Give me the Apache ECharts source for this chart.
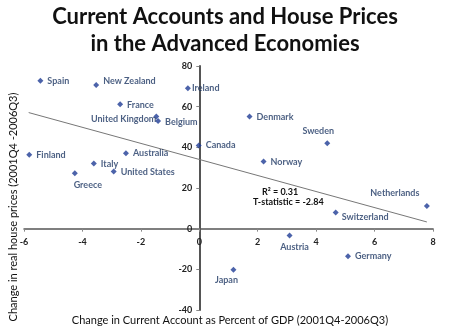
<!DOCTYPE html>
<html>
<head>
<meta charset="utf-8">
<script src="https://cdn.jsdelivr.net/npm/echarts@6/dist/echarts.min.js"></script>
<style>
html,body{margin:0;padding:0;background:#fff;}
#c{width:450px;height:332px;}
</style>
</head>
<body>
<div id="c"></div>
<script>
// Data
var countries = ["Spain","New Zealand","France","United Kingdom","Belgium","Ireland","Canada","Finland","Australia","Italy","United States","Greece","Denmark","Sweden","Norway","Netherlands","Switzerland","Austria","Germany","Japan"];
var currentAccountChange = [-5.44,-3.53,-2.71,-1.47,-1.41,-0.39,-0.02,-5.82,-2.51,-3.61,-2.93,-4.26,1.72,4.38,2.20,7.79,4.67,3.09,5.09,1.17];
var housePriceChange = [72.7,70.6,61.2,55.2,52.9,69.1,40.9,36.3,37.1,32.0,28.1,27.2,55.2,42.0,33.0,11.1,8.0,-3.4,-13.6,-20.2];
var trendX = [-5.84, 7.79];
var trendY = [57.1, 3.3];
var xTicks = [-6,-4,-2,0,2,4,6,8];
var yTicks = [-40,-20,0,20,40,60,80];
var statsText = ["R\u00B2 = 0.31", "T-statistic = -2.84"];
var xTitle = "Change in Current Account as Percent of GDP (2001Q4-2006Q3)";
var yTitle = "Change in real house prices (2001Q4 -2006Q3)";

// Label placement (style only)
var labelLayout = {
  "Spain": {position:"right", offset:[0,0]},
  "New Zealand": {position:"right", offset:[0,-4]},
  "France": {position:"right", offset:[0,1]},
  "United Kingdom": {position:"left", offset:[7,3]},
  "Belgium": {position:"right", offset:[0,1]},
  "Ireland": {position:"right", offset:[-3,0]},
  "Canada": {position:"right", offset:[0,0]},
  "Finland": {position:"right", offset:[0,0]},
  "Australia": {position:"right", offset:[0,0]},
  "Italy": {position:"right", offset:[0,0]},
  "United States": {position:"right", offset:[0,1]},
  "Greece": {position:"bottom", offset:[13,0]},
  "Denmark": {position:"right", offset:[0,1]},
  "Sweden": {position:"top", offset:[-9,-1]},
  "Norway": {position:"right", offset:[0,1]},
  "Netherlands": {position:"top", offset:[-32,-2]},
  "Switzerland": {position:"right", offset:[-1,5]},
  "Austria": {position:"bottom", offset:[5,0]},
  "Germany": {position:"right", offset:[0,0]},
  "Japan": {position:"bottom", offset:[-7,-1]}
};

var pts = countries.map(function(n,i){
  var l = labelLayout[n];
  return {name:n, value:[currentAccountChange[i], housePriceChange[i]],
    label:{position:l.position, offset:l.offset}};
});

// grid geometry (layout)
var W = 450, H = 332;
var G = {left:24, right:17, top:66, bottom:22};
var gw = W - G.left - G.right, gh = H - G.top - G.bottom;
var xMin = xTicks[0], xMax = xTicks[xTicks.length-1];
var yMin = yTicks[0], yMax = yTicks[yTicks.length-1];
// shift axes so they cross at the origin
var xAxisOffset = -gh * (0 - yMin) / (yMax - yMin);
var yAxisOffset = -gw * (0 - xMin) / (xMax - xMin);

var FONT = "Lato";
var chart = echarts.init(document.getElementById('c'), null, {renderer:'canvas'});
chart.setOption({
  animation:false,
  backgroundColor:'#ffffff',
  textStyle:{fontFamily:FONT},
  title:[{
    text:"Current Accounts and House Prices\nin the Advanced Economies",
    left:'center', top:-2,
    textStyle:{fontFamily:FONT, fontWeight:'bold', fontSize:22, lineHeight:27, color:'#111'}
  }],
  grid:{left:G.left, right:G.right, top:G.top, bottom:G.bottom, containLabel:false, outerBoundsMode:'none'},
  xAxis:{
    type:'value', min:xMin, max:xMax, interval:2, position:'bottom', offset:xAxisOffset,
    axisLine:{onZero:false, lineStyle:{color:'#555', width:1.5}},
    axisTick:{show:true, inside:false, length:3, lineStyle:{color:'#888'}},
    axisLabel:{fontFamily:FONT, fontWeight:'bold', fontSize:9, color:'#222', margin:9},
    splitLine:{show:false}
  },
  yAxis:{
    type:'value', min:yMin, max:yMax, interval:20, position:'left', offset:yAxisOffset,
    axisLine:{onZero:false, lineStyle:{color:'#555', width:2}},
    axisTick:{show:true, length:3, lineStyle:{color:'#888'}},
    axisLabel:{fontFamily:FONT, fontWeight:'bold', fontSize:9, color:'#222', margin:7},
    splitLine:{show:false}
  },
  graphic:[
    {type:'text', left:262, top:188, style:{text:statsText[0], font:'bold 9px Lato', fill:'#111'}},
    {type:'text', left:253, top:198, style:{text:statsText[1], font:'bold 9px Lato', fill:'#111'}},
    {type:'text', x:230, y:320, style:{text:xTitle, font:'11px Lato', fill:'#111', align:'center', verticalAlign:'middle'}},
    {type:'text', x:13, y:207, rotation:Math.PI/2, style:{text:yTitle, font:'11px Lato', fill:'#111', align:'center', verticalAlign:'middle'}}
  ],
  series:[
    {
      type:'line', data:trendX.map(function(x,i){return [x,trendY[i]];}),
      symbol:'none', lineStyle:{color:'#777', width:1}, z:1, silent:true
    },
    {
      type:'scatter', data:pts, symbol:'diamond', symbolSize:6,
      itemStyle:{color:'#1F3C95'}, z:3,
      label:{show:true, formatter:'{b}', fontFamily:FONT, fontWeight:'bold', fontSize:9, color:'#1F3864', distance:4}
    }
  ]
});
</script>
</body>
</html>
